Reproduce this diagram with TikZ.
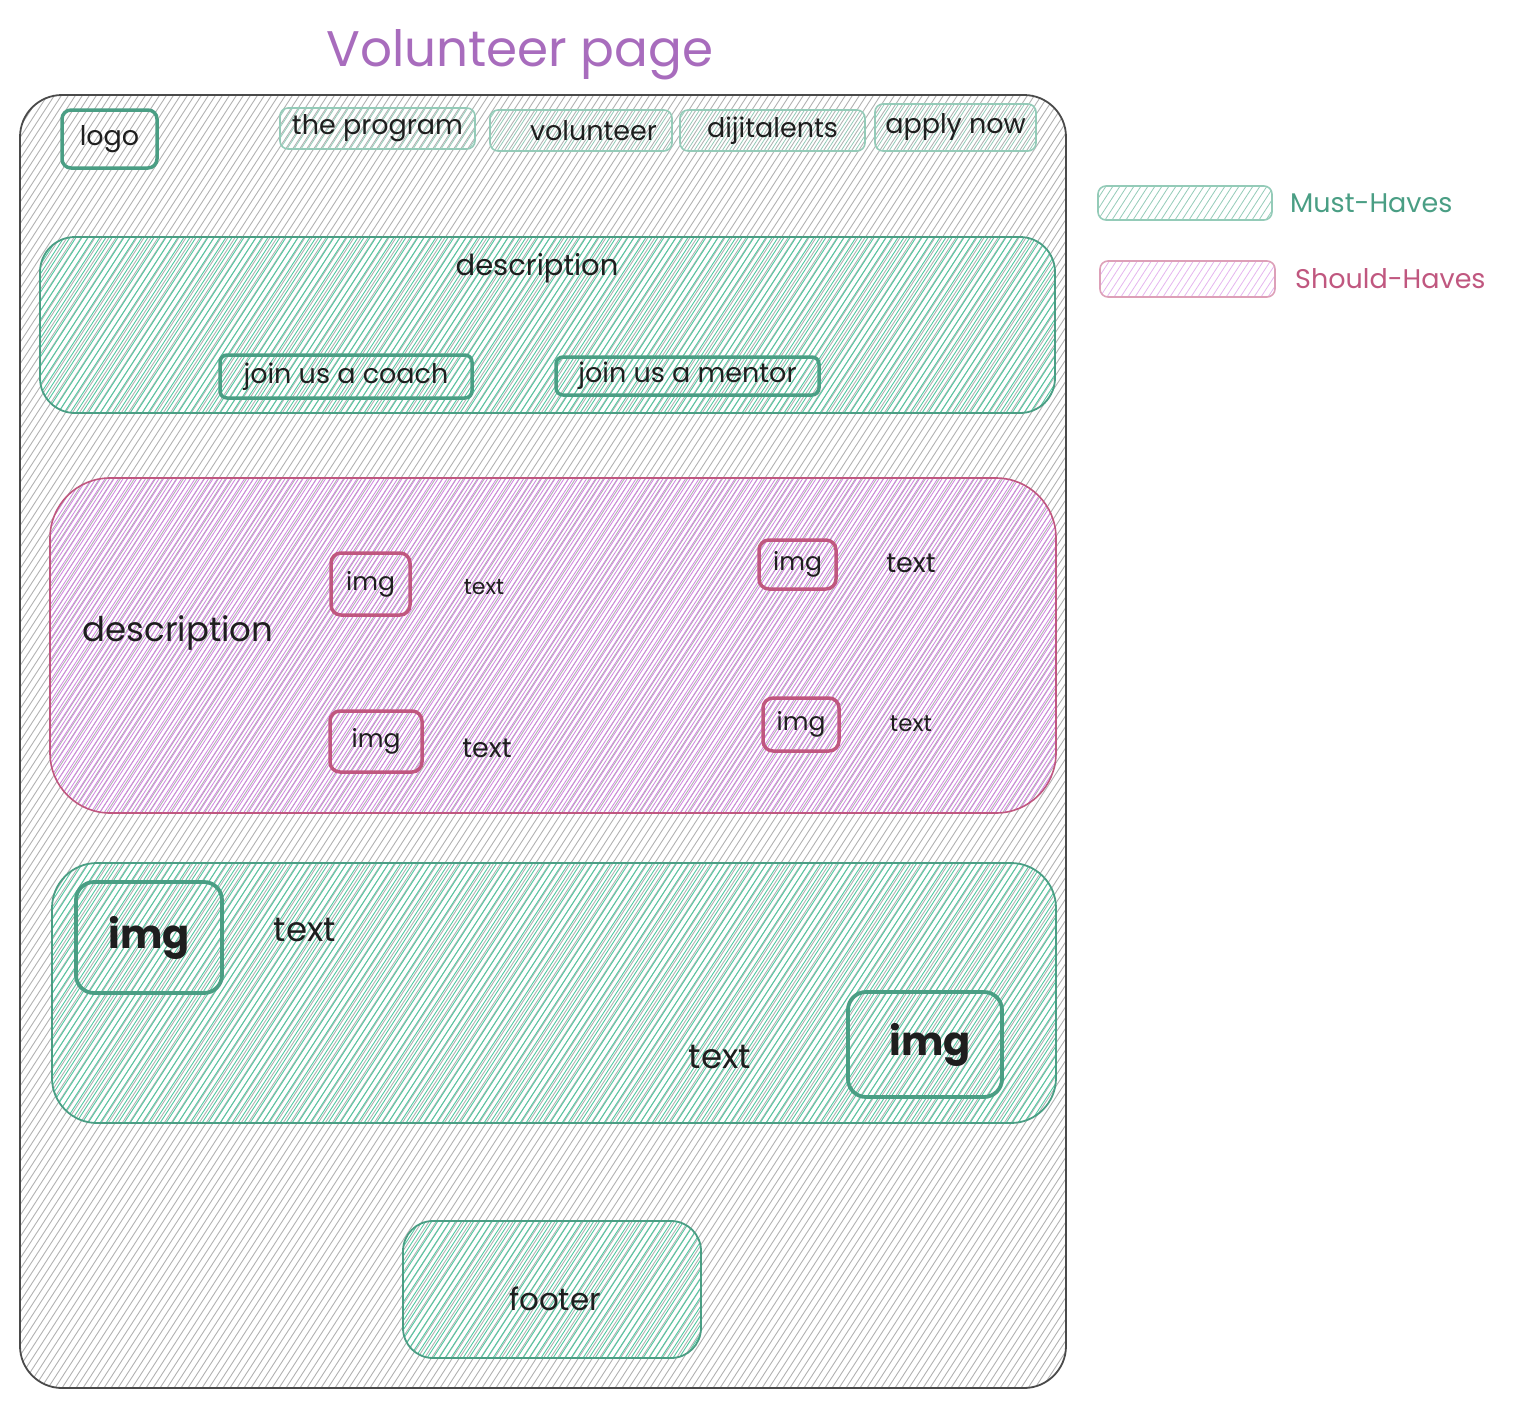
\documentclass[tikz,border=0pt]{standalone}
\usepackage{fontspec}
\setmainfont{Poppins}
\usetikzlibrary{positioning}

\definecolor{inkgray}{HTML}{1E1E1E}
\definecolor{frameline}{HTML}{4A4A4A}
\definecolor{framehatch}{HTML}{B2B2B2}
\definecolor{mustline}{HTML}{4A9E84}
\definecolor{mustlight}{HTML}{94CBB8}
\definecolor{musthatch}{HTML}{52C9A1}
\definecolor{shouldline}{HTML}{C0577F}
\definecolor{shouldlight}{HTML}{DDA0B8}
\definecolor{shouldhatch}{HTML}{D283E2}
\definecolor{titlepurple}{HTML}{A86CBD}

\newcommand{\fsz}[1]{\fontsize{#1}{#1}\selectfont}

\begin{document}
\begin{tikzpicture}[x=1pt, y=-1pt,
    hatch/.style 2 args={path picture={
        \foreach \k in {-150,...,240}
          \draw[#1] ([xshift=\k*#2]path picture bounding box.south west) -- ++(57:1600pt);
      }},
    box/.style={inner sep=0pt, outer sep=0pt, text=inkgray},
    page/.style={box, draw=frameline, line width=1.8pt, rounded corners=42pt,
      hatch={framehatch, line width=0.9pt}{7pt}},
    must/.style={box, draw=mustline, line width=1.8pt,
      hatch={musthatch, line width=0.9pt}{6pt}},
    should/.style={box, draw=shouldline, line width=1.6pt,
      hatch={shouldhatch, line width=0.8pt}{4.5pt}},
    navbox/.style={box, draw=mustlight, line width=1.6pt, rounded corners=8pt,
      hatch={mustlight, line width=0.8pt}{7pt}, font=\fsz{27}},
    button/.style={box, draw=mustline, line width=3.5pt, rounded corners=7pt, font=\fsz{27}},
    imgsmall/.style={box, draw=shouldline, line width=3.5pt, rounded corners=10pt, font=\fsz{25}},
    imgbig/.style={box, draw=mustline, line width=3.8pt, rounded corners=18pt, font=\bfseries\fsz{40}},
    label/.style={text=inkgray, inner sep=0pt}
  ]
  \useasboundingbox (0,0) rectangle (1516,1408);

  % title
  \node[label, text=titlepurple, font=\fsz{50}] (title) at (520,55) {Volunteer page};

  % page frame
  \node[page, minimum width=1046pt, minimum height=1293pt] (frame) at (543,741.5) {};

  % header
  \node[button, minimum width=95pt, minimum height=58pt, rounded corners=9pt] (logo) at (109.5,139) {logo};
  \node[navbox, minimum width=195pt, minimum height=41pt] (navprog) at (377.5,128.5) {the program};
  \node[navbox, minimum width=182pt, minimum height=41pt] (navvol) at (581,130.5) {\hspace{25pt}volunteer};
  \node[navbox, minimum width=185pt, minimum height=41pt] (navdiji) at (772.5,130.5) {dijitalents};
  \node[navbox, minimum width=161pt, minimum height=47pt] (navapply) at (955.5,127.5) {apply now};

  % legend
  \node[navbox, minimum width=174pt, minimum height=34pt] (legmust) at (1185,203) {};
  \node[label, text=mustline, font=\fsz{27}, right=18pt of legmust] (mustlbl) {Must-Haves};
  \node[navbox, draw=shouldlight, hatch={shouldhatch!60, line width=0.8pt}{7pt}, minimum width=175pt, minimum height=36pt] (legshould) at (1187.5,279) {};
  \node[label, text=shouldline, font=\fsz{27}, right=20pt of legshould] (shouldlbl) {Should-Haves};

  % section 1: description with calls to action
  \node[must, rounded corners=35pt, minimum width=1015pt, minimum height=176pt] (intro) at (547.5,325) {};
  \node[label, font=\fsz{29}] (introtxt) at (537,268) {description};
  \node[button, minimum width=252pt, minimum height=43pt] (coach) at (346,376.5) {join us a coach};
  \node[button, minimum width=263pt, minimum height=38pt] (mentor) at (687.5,376) {join us a mentor};

  % section 2: roles (should-have)
  \node[should, rounded corners=60pt, minimum width=1006pt, minimum height=335pt] (roles) at (553,645.5) {};
  \node[label, font=\fsz{34}] (rolestxt) at (178,633) {description};
  \node[imgsmall, minimum width=79pt, minimum height=62pt] (imgA) at (370.5,584) {img};
  \node[label, font=\fsz{22}] (txtA) at (484,587) {text};
  \node[imgsmall, minimum width=77pt, minimum height=49pt] (imgB) at (797.5,564.5) {img};
  \node[label, font=\fsz{27}] (txtB) at (911,563) {text};
  \node[imgsmall, minimum width=92pt, minimum height=61pt] (imgC) at (376,741.5) {img};
  \node[label, font=\fsz{27}] (txtC) at (487,748) {text};
  \node[imgsmall, minimum width=76pt, minimum height=53pt] (imgD) at (801,724.5) {img};
  \node[label, font=\fsz{23}] (txtD) at (911,724) {text};

  % section 3: stories
  \node[must, rounded corners=45pt, minimum width=1004pt, minimum height=260pt] (stories) at (554,993) {};
  \node[imgbig, minimum width=146pt, minimum height=111pt] (imgE) at (149,937.5) {img};
  \node[label, font=\fsz{34}] (txtE) at (305,930) {text};
  \node[imgbig, minimum width=154pt, minimum height=105pt] (imgF) at (925,1044.5) {\hspace{10pt}img};
  \node[label, font=\fsz{34}] (txtF) at (720,1057) {text};

  % footer
  \node[must, rounded corners=30pt, minimum width=298pt, minimum height=137pt] (footer) at (552,1289.5) {};
  \node[label, font=\fsz{31}] (footertxt) at (555,1299) {footer};
\end{tikzpicture}
\end{document}
